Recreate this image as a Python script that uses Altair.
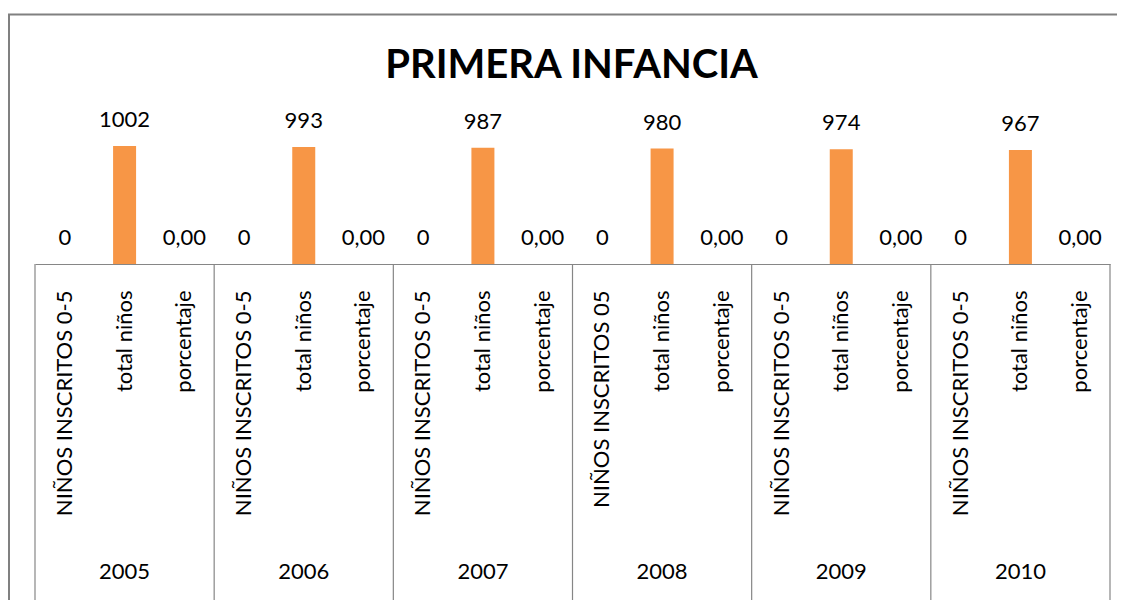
import altair as alt
import pandas as pd

years = [2005, 2006, 2007, 2008, 2009, 2010]
cat_names = [
    ["NIÑOS INSCRITOS 0-5", "total niños", "porcentaje"],
    ["NIÑOS INSCRITOS 0-5", "total niños", "porcentaje"],
    ["NIÑOS INSCRITOS 0-5", "total niños", "porcentaje"],
    ["NIÑOS INSCRITOS 05", "total niños", "porcentaje"],
    ["NIÑOS INSCRITOS 0-5", "total niños", "porcentaje"],
    ["NIÑOS INSCRITOS 0-5", "total niños", "porcentaje"],
]
inscritos = [0, 0, 0, 0, 0, 0]
total_ninos = [1002, 993, 987, 980, 974, 967]
porcentaje = [0.00, 0.00, 0.00, 0.00, 0.00, 0.00]
title_text = ["PRIMERA INFANCIA"]

rows = []
for i, y in enumerate(years):
    vals = [inscritos[i], total_ninos[i], porcentaje[i]]
    for j in range(3):
        v = vals[j]
        lab = f"{v:.2f}".replace(".", ",") if j == 2 else f"{int(v)}"
        rows.append({"key": f"{y}|{cat_names[i][j]}", "year": str(y), "idx": j,
                     "value": v, "label": lab, "last": i == len(years) - 1 and j == 2})
df = pd.DataFrame(rows)
keys = list(df["key"])

FONT = "Lato"
GRAY = "#868686"
H = 165
W = 1075


def xenc(**kw):
    return alt.X(
        "key:N",
        sort=keys,
        title=None,
        scale=alt.Scale(type="band", paddingInner=0, paddingOuter=0),
        axis=alt.Axis(
            labelExpr="split(datum.label, '|')[1]",
            labelAngle=-90,
            labelAlign="right",
            labelBaseline="middle",
            labelPadding=26,
            labelLimit=400,
            labelFont=FONT,
            labelFontSize=22,
            labelColor="#000000",
            ticks=False,
            domainColor=GRAY,
            domainWidth=1,
            grid=False,
        ),
        **kw,
    )


yenc = alt.Y("value:Q", scale=alt.Scale(domain=[0, 1400]), axis=None)

base = alt.Chart(df)

bars = base.mark_bar(size=23, color="#F79646").encode(x=xenc(), y=yenc)

labels = base.mark_text(font=FONT, fontSize=22, color="#000000", dy=-26,
                        baseline="middle").encode(x=xenc(), y=yenc, text="label:N")

year_labels = base.transform_filter("datum.idx == 1").mark_text(
    font=FONT, fontSize=22, color="#000000", baseline="middle"
).encode(x=xenc(), y=alt.value(473), text="year:N")

sep_left = base.transform_filter("datum.idx == 0").mark_rule(
    color=GRAY, strokeWidth=1.2
).encode(x=xenc(bandPosition=0), y=alt.value(H), y2=alt.value(H + 340))

sep_right = base.transform_filter("datum.last").mark_rule(
    color=GRAY, strokeWidth=1.2
).encode(x=xenc(bandPosition=1), y=alt.value(H), y2=alt.value(H + 340))

frame = alt.Chart(pd.DataFrame({"f": [0]})).mark_rect(
    fill=None, stroke="#808080", strokeWidth=2
).encode(x=alt.value(-26), x2=alt.value(1300), y=alt.value(-84.5), y2=alt.value(700))

title = alt.Chart(pd.DataFrame({"t": title_text})).mark_text(
    font=FONT, fontSize=40, fontWeight="bold", color="#000000",
    align="center", baseline="alphabetic"
).encode(x=alt.value(W / 2 - 1), y=alt.value(-21), text="t:N")

chart = alt.layer(frame, bars, labels, year_labels, sep_left, sep_right, title).properties(
    width=W,
    height=H,
    autosize=alt.AutoSizeParams(type="none"),
    padding={"left": 27, "top": 91, "right": 7, "bottom": 336},
).configure(background="#ffffff").configure_view(stroke=None)

chart.save("out.html", embed_options={"renderer": "svg", "actions": False})
